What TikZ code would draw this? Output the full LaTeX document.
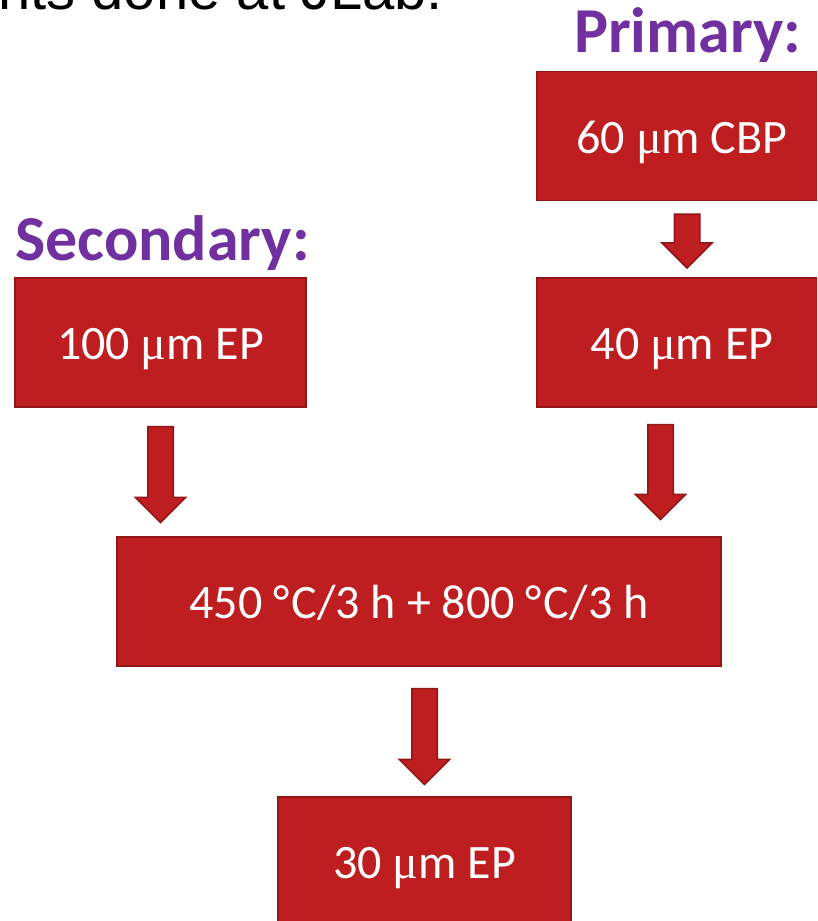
\documentclass[tikz,border=0pt]{standalone}
\usepackage{fontspec}
\setmainfont{Carlito}
\newfontfamily\arialfont{Liberation Sans}
\newfontfamily\greekfont{Liberation Serif}
\usetikzlibrary{shapes.arrows,calc}
\definecolor{boxred}{RGB}{190,30,32}
\definecolor{boxedge}{RGB}{145,22,24}
\definecolor{headpurple}{RGB}{112,48,160}
\newcommand{\um}{{\greekfont μ}m}
\newcommand{\degC}{°\kern2pt C}

\begin{document}
\begin{tikzpicture}[x=1pt,y=-1pt,
  stage/.style={draw=boxedge, line width=1.5pt, fill=boxred, text=white, inner sep=0, minimum height=129pt, text height=34pt, text depth=0pt, font=\fontsize{48}{56}\selectfont},
  blockarrow/.style={single arrow, draw=boxedge, line width=1.5pt, fill=boxred, rotate=-90, inner xsep=0, inner ysep=12pt, minimum width=49pt, single arrow head extend=12.5pt, single arrow tip angle=90, anchor=tail},
  heading/.style={text=headpurple, inner sep=0, anchor=base west, font=\fontsize{64}{72}\selectfont\bfseries}]
\useasboundingbox (0,0) rectangle (817,921);
\clip (0,0) rectangle (817,921);

\node[inner sep=0, anchor=base west, font=\arialfont\fontsize{58}{66}\selectfont] (intro) at (-2,9) {nts done at JLab.};

\node[heading] (prim) at (574,52) {Primary:};
\node[heading] (sec) at (15,260) {Secondary:};

\node[stage, minimum width=290pt] (cbp) at (682,136) {60 \um{} CBP};
\node[stage, minimum width=290pt] (ep40) at (682,342.5) {40 \um{} EP};
\node[stage, minimum width=291pt] (ep100) at (160.5,342.5) {100 \um{} EP};
\node[stage, minimum width=604pt] (anneal) at (419,601.5) {450 \degC/3 h + 800 \degC/3 h};
\node[stage, minimum width=293pt] (ep30) at (424.5,861.5) {30 \um{} EP};

\node[blockarrow, minimum height=54pt] (a1) at ($(cbp.south)+(5,12)$) {};
\node[blockarrow, minimum height=96pt] (a2) at ($(ep100.south)+(0,18)$) {};
\node[blockarrow, minimum height=95pt] (a3) at ($(ep40.south)+(-21.5,16)$) {};
\node[blockarrow, minimum height=96pt] (a4) at ($(anneal.south)+(5.5,21)$) {};
\end{tikzpicture}
\end{document}
